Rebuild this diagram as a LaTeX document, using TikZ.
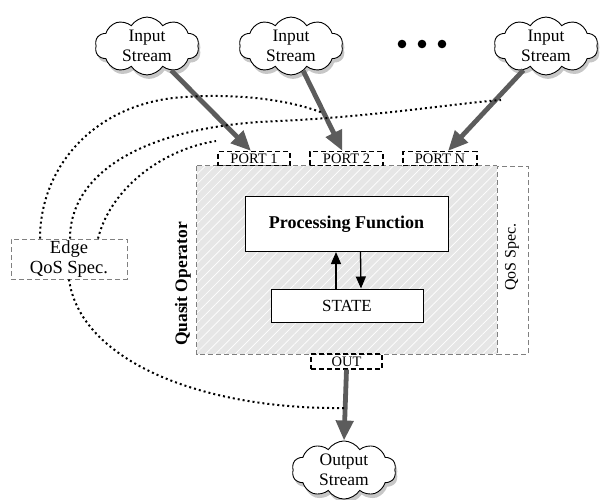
\documentclass[tikz,border=0pt]{standalone}
\usepackage{fontspec}
\setmainfont{Liberation Serif}
\usetikzlibrary{shapes.symbols,shadows,arrows.meta,patterns.meta,calc}
\definecolor{arrgray}{HTML}{5C5C5C}
\definecolor{boxfill}{HTML}{E6E6E6}
\begin{document}
\begin{tikzpicture}[x=1pt,y=-1pt,
  cloudn/.style={cloud, draw, line width=0.9pt, fill=white, cloud puffs=10, cloud puff arc=115,
    aspect=1.9, minimum width=104pt, minimum height=54pt, inner sep=0pt, align=center,
    font=\fontsize{17.5}{20.5}\selectfont,
    drop shadow={shadow xshift=2pt, shadow yshift=-4pt, opacity=0.22, fill=black}},
  portbox/.style={draw, dashed, dash pattern=on 5pt off 3pt, line width=1.1pt, inner sep=0pt,
    minimum height=14pt, font=\fontsize{14.5}{14.5}\selectfont},
  gdash/.style={draw=gray, dashed, dash pattern=on 5pt off 3pt, line width=0.8pt},
  bigarrow/.style={draw=arrgray, line width=4.8pt, -{Triangle[length=20pt,width=17pt]}},
  smallarrow/.style={draw=black, line width=1.3pt, -{Triangle[length=12pt,width=10pt]}},
  dots/.style={draw=black, line width=2pt, dash pattern=on 2pt off 3pt},
  plainbox/.style={draw, line width=1pt, fill=white, inner sep=0pt}
]
\useasboundingbox (0,0) rectangle (602,500);

% operator area
\node[inner sep=0pt, minimum width=300pt, minimum height=188pt, fill=boxfill] (op) at (347,260) {};
\path[pattern={Lines[angle=45,distance=7pt,line width=0.7pt]}, pattern color=white]
  (op.north west) rectangle (op.south east);
\node[gdash, inner sep=0pt, minimum width=31pt, minimum height=188pt] (qos) at (512.5,260) {};
\draw[gdash] (op.north west) -- (op.south west) -- (op.south east);
\draw[gdash] (op.north west) -- (op.north east);

\node[rotate=90, font=\fontsize{17.5}{17.5}\selectfont\bfseries] (qlabel) at (183,284) {Quasit Operator};
\node[rotate=90, font=\fontsize{16}{16}\selectfont] (qoslabel) at (512,257) {QoS Spec.};

% inner boxes
\node[plainbox, minimum width=203pt, minimum height=55pt, font=\fontsize{18}{18}\selectfont\bfseries] (pf) at (346.5,224) {Processing Function};
\node[plainbox, minimum width=152pt, minimum height=33pt, font=\fontsize{17}{17}\selectfont] (st) at (347,305.5) {STATE};
\draw[smallarrow] ([xshift=-11pt]st.north) -- ([xshift=-10.5pt]pf.south);
\draw[smallarrow] ([xshift=14pt]pf.south) -- ([xshift=14pt]st.north);

% ports
\node[portbox, minimum width=72pt] (p1) at (254,158.5) {PORT 1};
\node[portbox, minimum width=73pt] (p2) at (346.5,158.5) {PORT 2};
\node[portbox, minimum width=74pt] (pN) at (440,158.5) {PORT N};
\node[portbox, minimum width=71pt, minimum height=15pt] (outp) at (346.5,361.5) {OUT};

% clouds
\node[cloudn] (in1) at (147,46) {Input\\Stream};
\node[cloudn] (in2) at (291,46) {Input\\Stream};
\node[cloudn] (in3) at (546,46) {Input\\Stream};
\node[cloudn] (outs) at (344,470) {Output\\Stream};

\fill (402,44) circle (4.3);
\fill (422,44) circle (4.3);
\fill (442,44) circle (4.3);

% big arrows
\draw[bigarrow] (in1) -- ([xshift=-3pt]p1.north);
\draw[bigarrow] (in2) -- ([xshift=-4pt]p2.north);
\draw[bigarrow] (in3) -- ([xshift=8pt]pN.north);
\draw[bigarrow] (outp.south) -- (outs.north);

% edge QoS spec
\node[gdash, minimum width=116pt, minimum height=40pt, inner sep=0pt, align=center,
  font=\fontsize{18.5}{20}\selectfont, fill=white] (edge) at (69,259) {Edge\\QoS Spec.};

\coordinate (ea) at (323,113);
\coordinate (eb) at (501,100);
\coordinate (ec) at (216,141);
\coordinate (ed) at (346.5,408);

\draw[dots] ([xshift=-29pt]edge.north) .. controls (40,170) and (90,108) .. (173,98)
  .. controls (235,92) and (290,100) .. (ea);
\draw[dots] ([xshift=1pt]edge.north) .. controls (70,170) and (150,125) .. (280,121)
  .. controls (380,116) and (450,104) .. (eb);
\draw[dots] ([xshift=29pt]edge.north) .. controls (110,190) and (160,150) .. (ec);
\draw[dots] (edge.south) .. controls (80,360) and (200,410) .. (ed);
\end{tikzpicture}
\end{document}
